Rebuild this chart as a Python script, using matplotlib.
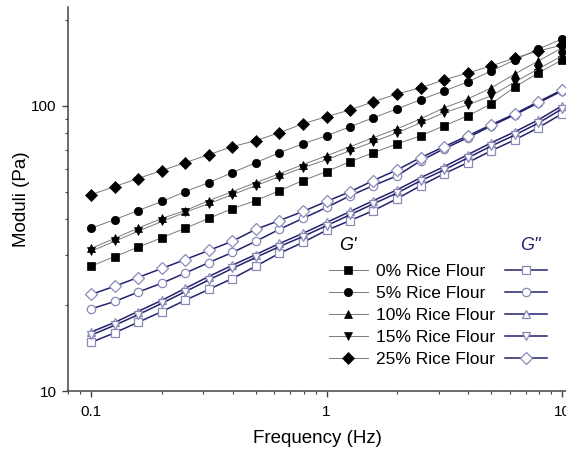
import matplotlib.pyplot as plt
from matplotlib.ticker import FuncFormatter, LogLocator, NullFormatter

plt.rcParams['font.family'] = ['Liberation Sans', 'DejaVu Sans']

# frequency sweep (Hz), 10 points per decade
freq = [0.1, 0.126, 0.158, 0.2, 0.251, 0.316, 0.398, 0.501, 0.631, 0.794,
        1.0, 1.26, 1.58, 2.0, 2.51, 3.16, 3.98, 5.01, 6.31, 7.94, 10.0]

labels = ['0% Rice Flour', '5% Rice Flour', '10% Rice Flour',
          '15% Rice Flour', '25% Rice Flour']

# storage modulus G' (Pa)
g1_0 = [27.4, 29.6, 31.9, 34.5, 37.2, 40.3, 43.6, 46.5, 50.4, 54.7, 58.8,
        63.7, 68.5, 73.6, 78.5, 85.1, 92.2, 101.6, 116.5, 130.4, 144.8]
g1_5 = [37.2, 39.9, 42.9, 46.2, 50.0, 53.8, 58.3, 63.2, 68.5, 73.6, 78.5,
        84.5, 90.8, 97.7, 105.0, 112.8, 121.3, 132.5, 144.8, 158.2, 171.4]
g1_10 = [31.6, 34.3, 37.2, 40.3, 42.9, 46.5, 50.0, 53.8, 57.8, 62.2, 66.8,
         71.9, 77.3, 83.1, 90.1, 98.4, 105.7, 115.6, 129.4, 143.6, 159.6]
g1_15 = [30.9, 33.5, 36.3, 39.3, 42.3, 45.4, 48.8, 52.5, 56.5, 60.7, 64.7,
         69.6, 74.8, 80.5, 87.2, 94.6, 100.8, 108.4, 121.3, 134.7, 149.6]
g1_25 = [48.8, 52.1, 55.6, 59.3, 63.2, 67.4, 71.9, 75.5, 80.5, 86.5, 91.6,
         96.8, 103.3, 110.2, 115.6, 123.3, 130.4, 138.0, 147.2, 155.6, 163.3]

# loss modulus G'' (Pa)
g2_0 = [14.8, 16.0, 17.4, 19.0, 20.8, 22.7, 24.8, 27.4, 30.4, 33.2, 36.6,
        39.6, 42.9, 47.3, 52.5, 57.8, 63.2, 69.6, 76.0, 83.8, 93.8]
g2_5 = [19.4, 20.6, 22.2, 23.9, 25.9, 28.2, 30.6, 33.5, 36.9, 40.3, 44.0,
        48.4, 52.5, 56.9, 64.2, 70.7, 77.3, 85.1, 93.0, 102.4, 112.8]
g2_10 = [16.1, 17.4, 19.0, 20.8, 22.9, 25.2, 27.6, 30.1, 32.9, 35.7, 39.0,
         42.6, 46.5, 50.8, 56.0, 61.2, 67.4, 74.2, 81.1, 89.3, 100.0]
g2_15 = [15.7, 17.0, 18.5, 20.3, 22.3, 24.5, 26.9, 29.4, 32.1, 34.8, 38.0,
         41.5, 45.3, 49.5, 54.6, 59.6, 65.7, 72.3, 79.0, 87.0, 97.5]
g2_25 = [21.8, 23.3, 25.0, 26.9, 28.9, 31.1, 33.5, 36.9, 39.6, 42.6, 46.2,
         50.0, 54.7, 59.7, 65.8, 71.9, 78.5, 85.8, 93.8, 103.3, 113.7]

g1_series = [g1_0, g1_5, g1_10, g1_15, g1_25]
g2_series = [g2_0, g2_5, g2_10, g2_15, g2_25]
markers = ['s', 'o', '^', 'v', 'D']
sizes = [5.2, 6.0, 6.3, 6.3, 5.8]

navy = '#22226e'
lavender = '#8a8ab8'

fig = plt.figure(figsize=(5.66, 4.5), dpi=100)
ax = fig.add_axes([0.1201, 0.1311, 0.8799, 0.8533])

g1_handles = []
g2_handles = []
for s2, m, ms in zip(g2_series, markers, sizes):
    h2, = ax.plot(freq, s2, color=navy, lw=1.1, marker=m, ms=ms,
                  mfc='white', mec=lavender, mew=0.9)
    g2_handles.append(h2)
for s1, m, ms in zip(g1_series, markers, sizes):
    h1, = ax.plot(freq, s1, color='#7a7a7a', lw=0.7, marker=m, ms=ms,
                  mfc='black', mec='black', mew=0.5)
    g1_handles.append(h1)

ax.set_xscale('log')
ax.set_yscale('log')
ax.set_xlim(0.0798, 10.4)
ax.set_ylim(10, 222)

fmt = FuncFormatter(lambda v, p: f'{v:g}')
for axis in (ax.xaxis, ax.yaxis):
    axis.set_major_locator(LogLocator(base=10))
    axis.set_major_formatter(fmt)
    axis.set_minor_locator(LogLocator(base=10, subs=range(2, 10)))
    axis.set_minor_formatter(NullFormatter())

for side in ('top', 'right'):
    ax.spines[side].set_visible(False)
for side in ('left', 'bottom'):
    ax.spines[side].set_color('#444444')
    ax.spines[side].set_linewidth(1.1)
ax.tick_params(which='major', direction='out', length=4, width=1.0,
               color='#444444', labelsize=11, pad=4)
ax.tick_params(which='minor', direction='out', length=2.5, width=0.8,
               color='#444444')
ax.tick_params(axis='x', which='major', pad=6)

ax.set_xlabel('Frequency (Hz)', fontsize=13.5, labelpad=8)
ax.set_ylabel('Moduli (Pa)', fontsize=13.5, labelpad=1)

leg1 = ax.legend(g1_handles, labels, loc='upper left',
                 bbox_to_anchor=(0.524, 0.331), frameon=False, fontsize=12.5,
                 handlelength=2.25, handletextpad=0.45, labelspacing=0.4,
                 borderpad=0, borderaxespad=0, numpoints=1)
ax.add_artist(leg1)
ax.legend(g2_handles, [''] * 5, loc='upper left',
          bbox_to_anchor=(0.8775, 0.331), frameon=False, fontsize=12.5,
          handlelength=2.4, handletextpad=0, labelspacing=0.4,
          borderpad=0, borderaxespad=0, numpoints=1, markerfirst=False)

ax.text(0.562, 0.380, "G'", transform=ax.transAxes, ha='center',
        va='center', fontsize=13, style='italic')
ax.text(0.928, 0.380, 'G"', transform=ax.transAxes, ha='center',
        va='center', fontsize=13, style='italic', color=navy)

fig.savefig('out.png', dpi=100)
